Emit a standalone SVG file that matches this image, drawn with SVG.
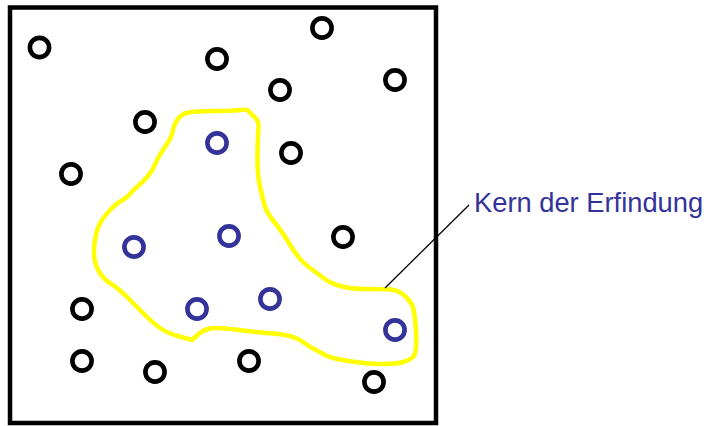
<svg xmlns="http://www.w3.org/2000/svg" width="709" height="426" viewBox="0 0 709 426">
<style>
.b{fill:none;stroke:#000;stroke-width:4.6}
.u{fill:none;stroke:#333399;stroke-width:4.6}
.blob{fill:none;stroke:#ffff00;stroke-width:4.5;stroke-linejoin:round}
.lbl{font-family:"Liberation Sans",Arial,sans-serif;font-size:27.3px;fill:#333399}
</style>
<rect width="709" height="426" fill="#fff"/>
<g id="frame"><rect x="10" y="7.5" width="426" height="415.5" fill="none" stroke="#000" stroke-width="4.5"/></g>
<g id="core">
<path class="blob" d="M172.5,132 Q173,127 176.5,121 Q180,115 186.5,113 Q193,111 213,111 Q233,111 240,110 Q247,109 248.5,111 Q250,113 254.5,117 Q259,121 258.5,127 Q258,133 257.5,153 Q257,173 260,186.5 Q263,200 265,206.5 Q267,213 275,223 Q283,233 288,241.5 Q293,250 298,256.5 Q303,263 310,268 Q317,273 323.5,278 Q330,283 340,286 Q350,289 366.5,289 Q383,289 390,289.5 Q397,290 402.5,294 Q408,298 411.5,304 Q415,310 416,331.5 Q417,353 413.5,356.5 Q410,360 403.5,362 Q397,364 382,364 Q367,364 348.5,361 Q330,358 325,355 Q320,352 315,349.5 Q310,347 301.5,341 Q293,335 273,333.5 Q253,332 235,329.5 Q217,327 210,328.5 Q203,330 197.5,335 L192,340 L179.5,336.5 Q167,333 160,328 Q153,323 146.5,316.5 Q140,310 128.5,298.5 Q117,287 112,284.5 Q107,282 102,276 Q97,270 95,261.5 Q93,253 95,240 Q97,227 102,220 Q107,213 112,208 Q117,203 122.5,200 Q128,197 130.5,193.5 Q133,190 138,186 Q143,182 148,176 Q153,170 155.5,163.5 Q158,157 165,147 Q172,137 172.5,132 Z"/>
</g>
<g id="points-outside">
<circle class="b" cx="39.5" cy="47.5" r="9.6"/>
<circle class="b" cx="217" cy="59" r="9.6"/>
<circle class="b" cx="322" cy="28" r="9.6"/>
<circle class="b" cx="395" cy="80" r="9.6"/>
<circle class="b" cx="280" cy="90" r="9.6"/>
<circle class="b" cx="145" cy="122" r="9.6"/>
<circle class="b" cx="291" cy="153" r="9.6"/>
<circle class="b" cx="71" cy="174" r="9.6"/>
<circle class="b" cx="343" cy="237" r="9.6"/>
<circle class="b" cx="82" cy="309" r="9.6"/>
<circle class="b" cx="82" cy="361" r="9.6"/>
<circle class="b" cx="155" cy="372" r="9.6"/>
<circle class="b" cx="249" cy="361" r="9.6"/>
<circle class="b" cx="374" cy="382" r="9.6"/>
</g>
<g id="points-inside">
<circle class="u" cx="217" cy="143" r="9.6"/>
<circle class="u" cx="134" cy="247" r="9.6"/>
<circle class="u" cx="229" cy="236" r="9.6"/>
<circle class="u" cx="197" cy="309" r="9.6"/>
<circle class="u" cx="270" cy="299" r="9.6"/>
<circle class="u" cx="395" cy="330" r="9.6"/>
</g>
<g id="connectors"><line x1="385" y1="288" x2="469" y2="205" stroke="#000" stroke-width="1.3"/></g>
<g id="label"><text class="lbl" x="474" y="212">Kern der Erfindung</text></g>
</svg>
